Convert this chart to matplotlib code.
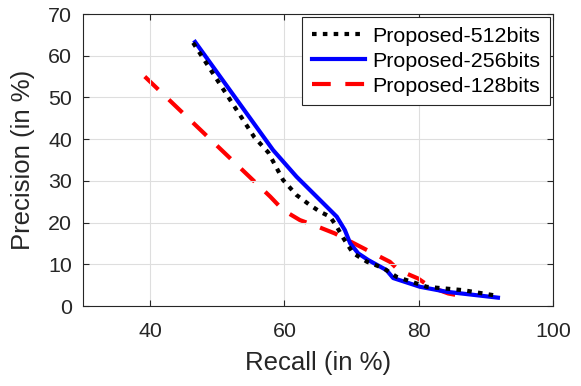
import matplotlib

matplotlib.use("Agg")
import matplotlib.pyplot as plt

plt.rcParams["font.family"] = ["Liberation Sans", "DejaVu Sans"]

recall_512 = [46.4, 55.5, 57.6, 59.8, 61.8, 63.8, 65.3, 66.8, 67.8, 68.8, 70.2, 72.3, 74.7, 76.7, 81.2, 86.6, 91.1]
prec_512 = [63.1, 40.5, 36.8, 30.2, 26.6, 24.2, 22.6, 21.4, 19.0, 16.2, 12.7, 10.6, 9.1, 7.0, 4.6, 3.8, 2.6]

recall_256 = [46.7, 58.3, 61.8, 65.3, 67.8, 69.0, 69.8, 71.0, 72.5, 75.2, 76.2, 80.2, 84.2, 91.8]
prec_256 = [63.3, 37.4, 31.0, 25.4, 21.4, 18.2, 15.0, 12.6, 11.0, 8.6, 6.7, 4.6, 3.4, 2.0]

recall_128 = [39.2, 57.9, 59.8, 62.3, 65.0, 67.5, 72.3, 75.7, 77.0, 79.9, 81.7, 84.4, 86.4]
prec_128 = [55.0, 26.2, 23.0, 20.6, 19.0, 17.4, 13.4, 10.6, 8.6, 6.6, 4.6, 3.0, 2.4]

x_ticks = [40, 60, 80, 100]
y_ticks = [0, 10, 20, 30, 40, 50, 60, 70]

fig = plt.figure(figsize=(5.81, 3.86), dpi=100)
ax = fig.add_axes([83 / 581, 1 - 306 / 386, 470 / 581, 292 / 386])

ax.plot(recall_512, prec_512, color="black", linewidth=3.0, linestyle=(0, (1.1, 1.5)),
        dash_capstyle="butt", label="Proposed-512bits", zorder=3)
ax.plot(recall_256, prec_256, color="#0000ff", linewidth=3.0, label="Proposed-256bits", zorder=2)
ax.plot(recall_128, prec_128, color="#ff0000", linewidth=3.0, linestyle=(0, (4.5, 3.5)),
        dash_capstyle="butt", label="Proposed-128bits", zorder=1)

ax.set_xlim(30, 100)
ax.set_ylim(0, 70)
ax.set_xticks(x_ticks)
ax.set_yticks(y_ticks)
ax.grid(True, color="#dedede", linewidth=0.8)
ax.tick_params(direction="in", top=True, right=True, labelsize=15.4, colors="#262626",
               length=4, width=0.8)
ax.tick_params(axis="x", pad=11.5)
ax.tick_params(axis="y", pad=8)
for spine in ax.spines.values():
    spine.set_color("#262626")
    spine.set_linewidth(0.8)

ax.set_xlabel("Recall (in %)", fontsize=18.5, color="#262626", labelpad=7)
ax.set_ylabel("Precision (in %)", fontsize=18.5, color="#262626", labelpad=9)

leg = ax.legend(loc="upper right", fontsize=15.4, frameon=True, fancybox=False,
                handlelength=2.5, handletextpad=0.33, borderpad=0.45, labelspacing=0.28,
                borderaxespad=0.15, framealpha=1)
leg.get_frame().set_edgecolor("#262626")
leg.get_frame().set_linewidth(0.8)

fig.savefig("out.png", dpi=100)
